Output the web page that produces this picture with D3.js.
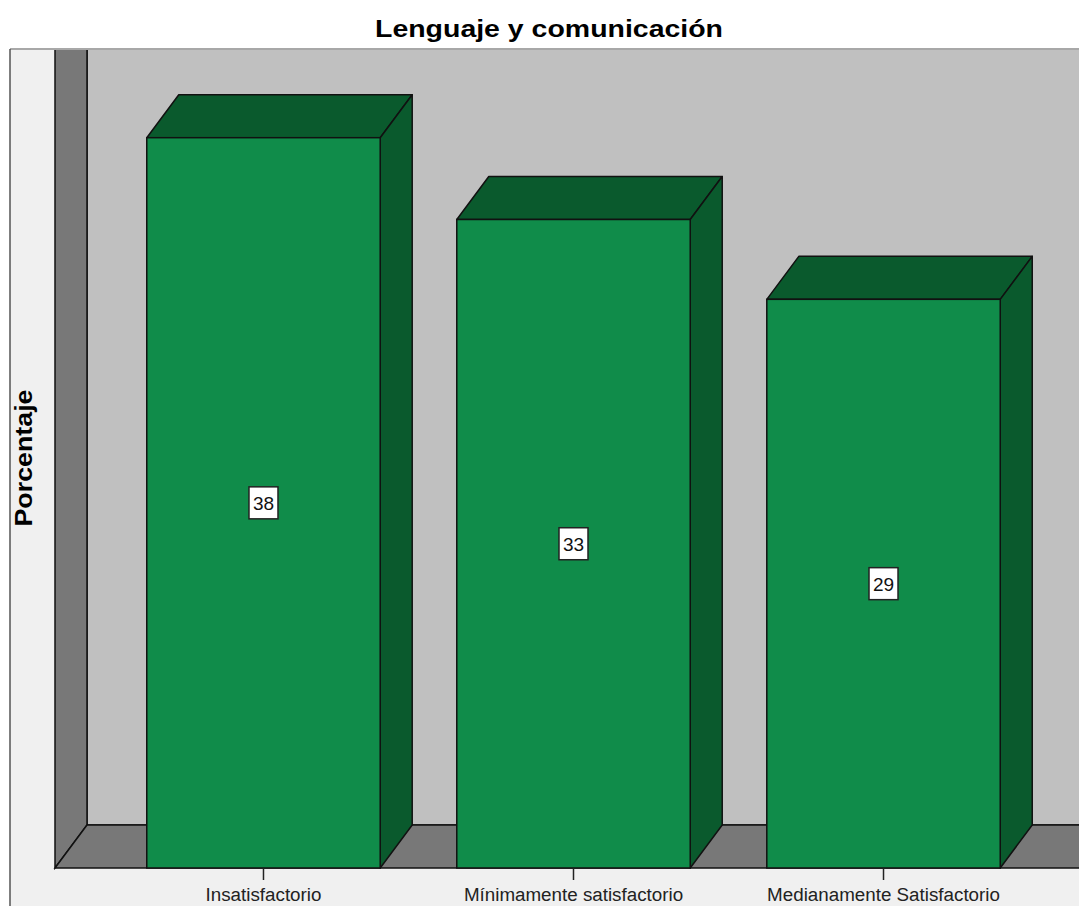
<!DOCTYPE html>
<html>
<head>
<meta charset="utf-8">
<script src="https://cdn.jsdelivr.net/npm/d3@7"></script>
<style>
  html, body { margin: 0; padding: 0; background: #ffffff; }
  svg { display: block; }
  text { font-family: "Liberation Sans", Arial, sans-serif; }
</style>
</head>
<body>
<svg id="chart" width="1079" height="906"></svg>
<script>
// Data
const categories = ["Insatisfactorio", "Mínimamente satisfactorio", "Medianamente Satisfactorio"];
const percentages = [37.5, 33.3, 29.2];
const yDomain = [0, 40];
const chartTitle = "Lenguaje y comunicación";
const yTitle = "Porcentaje";

const W = 1079, H = 906;
const svg = d3.select("#chart");

// Layout of the 3D box
const frameLeft = 10, frameTop = 49;
const baseY = 868;          // front floor edge
const wallX = 55;           // front edge of left wall
const depthX = 32, depthY = 43;

const x = d3.scaleBand().domain(categories).range([wallX, 1092])
  .paddingInner(0.247).paddingOuter(0.296);
const y = d3.scaleLinear().domain(yDomain).range([baseY, 89]);

const C = {
  panel: "#f0f0f0",
  wallSide: "#787878",
  wallBack: "#c0c0c0",
  floor: "#787878",
  front: "#108c4a",
  dark: "#0a5a2d",
  stroke: "#111111"
};

// Outer panel
svg.append("rect").attr("x", frameLeft).attr("y", frameTop)
  .attr("width", W - frameLeft).attr("height", H - frameTop).attr("fill", C.panel);

const defs = svg.append("defs");
defs.append("clipPath").attr("id", "plotClip").append("rect")
  .attr("x", wallX - 2).attr("y", frameTop).attr("width", W).attr("height", baseY - frameTop + 2);

const plot = svg.append("g").attr("clip-path", "url(#plotClip)");

// Back wall
plot.append("rect").attr("x", wallX + depthX).attr("y", frameTop)
  .attr("width", W).attr("height", baseY - depthY - frameTop)
  .attr("fill", C.wallBack).attr("stroke", C.stroke).attr("stroke-width", 1.5);

// Left wall
plot.append("polygon")
  .attr("points", [[wallX, frameTop], [wallX + depthX, frameTop], [wallX + depthX, baseY - depthY], [wallX, baseY]].join(" "))
  .attr("fill", C.wallSide).attr("stroke", C.stroke).attr("stroke-width", 1.5);

// Floor
plot.append("polygon")
  .attr("points", [[wallX, baseY], [wallX + depthX, baseY - depthY], [W + 40, baseY - depthY], [W + 40, baseY]].join(" "))
  .attr("fill", C.floor).attr("stroke", C.stroke).attr("stroke-width", 1.5);

// Bars
const rows = categories.map((c, i) => ({ cat: c, v: percentages[i] }));
const bars = plot.selectAll("g.bar").data(rows).join("g").attr("class", "bar");

bars.append("polygon") // top face
  .attr("points", d => {
    const x0 = x(d.cat), x1 = x0 + x.bandwidth(), yt = y(d.v);
    return [[x0, yt], [x0 + depthX, yt - depthY], [x1 + depthX, yt - depthY], [x1, yt]].join(" ");
  })
  .attr("fill", C.dark).attr("stroke", C.stroke).attr("stroke-width", 1.5).attr("stroke-linejoin", "round");

bars.append("polygon") // side face
  .attr("points", d => {
    const x1 = x(d.cat) + x.bandwidth(), yt = y(d.v), yb = y(0);
    return [[x1, yt], [x1 + depthX, yt - depthY], [x1 + depthX, yb - depthY], [x1, yb]].join(" ");
  })
  .attr("fill", C.dark).attr("stroke", C.stroke).attr("stroke-width", 1.5).attr("stroke-linejoin", "round");

bars.append("rect") // front face
  .attr("x", d => x(d.cat)).attr("y", d => y(d.v))
  .attr("width", x.bandwidth()).attr("height", d => y(0) - y(d.v))
  .attr("fill", C.front).attr("stroke", C.stroke).attr("stroke-width", 1.5);

// Value labels
const fmt = d3.format(".0f");
const lab = bars.append("g")
  .attr("transform", d => `translate(${x(d.cat) + x.bandwidth() / 2},${(y(d.v) + y(0)) / 2})`);
lab.append("rect").attr("x", -14.5).attr("y", -16).attr("width", 29).attr("height", 32)
  .attr("fill", "#ffffff").attr("stroke", "#222").attr("stroke-width", 1.5);
lab.append("text").attr("text-anchor", "middle").attr("dy", "0.36em")
  .attr("font-size", 19).attr("fill", "#111").text(d => fmt(d.v));

// Frame lines
svg.append("line").attr("x1", frameLeft).attr("x2", W).attr("y1", frameTop).attr("y2", frameTop)
  .attr("stroke", "#a8a8a8").attr("stroke-width", 2);
svg.append("line").attr("x1", frameLeft).attr("x2", frameLeft).attr("y1", frameTop).attr("y2", H)
  .attr("stroke", "#555").attr("stroke-width", 1.5);

// Category axis
const xAxis = d3.axisBottom(x).tickSize(12).tickPadding(7.5);
const ax = svg.append("g").attr("transform", `translate(0,${baseY})`).call(xAxis);
ax.select(".domain").remove();
ax.selectAll(".tick line").attr("stroke", "#222").attr("stroke-width", 1.5);
ax.selectAll(".tick text").attr("font-size", 18.8).attr("fill", "#222")
  .style("font-family", "'Liberation Sans', Arial, sans-serif");

// Titles
svg.append("text").attr("x", 549).attr("y", 37).attr("text-anchor", "middle")
  .attr("font-size", 23.5).attr("font-weight", "bold").attr("fill", "#000")
  .attr("textLength", 348).attr("lengthAdjust", "spacingAndGlyphs")
  .text(chartTitle);

svg.append("text").attr("transform", "translate(32,458) rotate(-90)").attr("text-anchor", "middle")
  .attr("font-size", 24).attr("font-weight", "bold").attr("fill", "#000")
  .attr("textLength", 137).attr("lengthAdjust", "spacingAndGlyphs")
  .text(yTitle);
</script>
</body>
</html>
